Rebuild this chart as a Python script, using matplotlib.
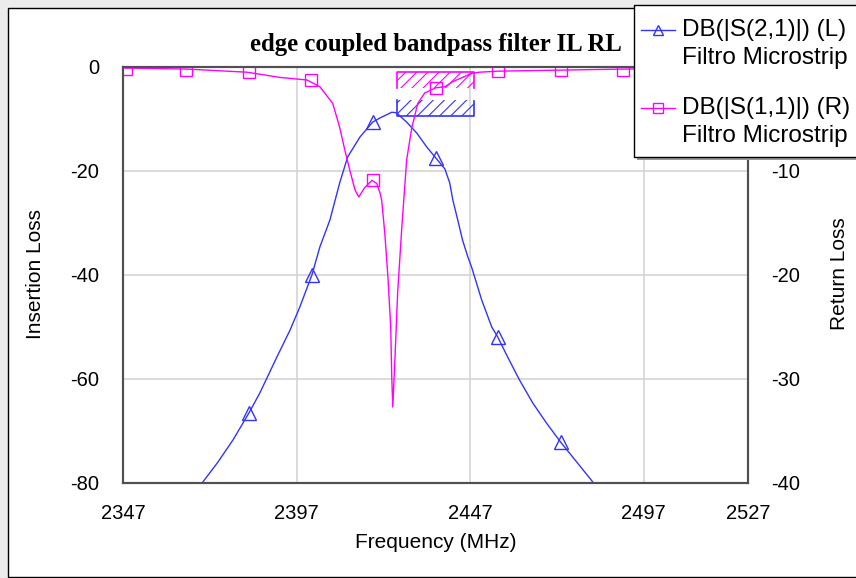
import matplotlib
matplotlib.use("Agg")
import matplotlib.pyplot as plt
import matplotlib.transforms as mtransforms
from matplotlib.lines import Line2D
from matplotlib.patches import Rectangle

# DB(|S(2,1)|) - insertion loss, left axis
s21_freq = [2367.5, 2370.0, 2374.1, 2378.7, 2383.3, 2386.4, 2391.3, 2395.1, 2397.9, 2401.4,
            2403.7, 2406.6, 2409.4, 2411.7, 2415.2, 2418.9, 2421.0, 2424.4, 2425.8, 2426.7,
            2428.7, 2431.6, 2434.5, 2437.1, 2439.7, 2441.1, 2442.0, 2443.4, 2444.8, 2446.3,
            2447.4, 2450.3, 2453.2, 2454.9, 2457.8, 2461.2, 2465.0, 2469.0, 2473.0, 2476.5,
            2482.3, 2484.5]
s21_db = [-83.0, -79.8, -76.2, -71.7, -66.5, -62.7, -55.8, -50.6, -46.2, -40.0,
          -34.6, -29.4, -22.3, -17.3, -13.5, -10.6, -9.8, -8.7, -8.8, -9.4,
          -10.6, -12.7, -15.4, -17.5, -19.6, -22.3, -25.6, -29.4, -33.3, -36.5,
          -38.5, -44.8, -50.0, -51.9, -55.8, -60.2, -64.6, -68.5, -72.1, -75.0,
          -79.8, -83.0]
s21_mark_freq = [2383.3, 2401.4, 2418.9, 2437.1, 2454.9, 2473.0]
s21_mark_db = [-66.5, -40.0, -10.6, -17.5, -51.9, -72.1]

# DB(|S(1,1)|) - return loss, right axis
s11_freq = [2347.0, 2365.4, 2382.7, 2392.2, 2400.0, 2403.7, 2407.4, 2409.4, 2410.9, 2412.3,
            2413.8, 2414.9, 2416.6, 2418.7, 2420.1, 2421.0, 2421.5, 2422.4, 2423.3, 2424.1,
            2424.4, 2424.7, 2425.3, 2426.1, 2427.3, 2428.7, 2430.2, 2431.9, 2433.9, 2437.1,
            2439.7, 2442.0, 2444.8, 2447.4, 2449.7, 2454.9, 2473.0, 2490.9, 2527.0]
s11_db = [-0.1, -0.2, -0.5, -1.0, -1.25, -1.9, -3.5, -5.8, -8.0, -9.9,
          -11.8, -12.5, -11.6, -10.9, -11.2, -12.1, -12.8, -16.0, -20.2, -25.0,
          -29.8, -32.7, -28.2, -21.7, -15.4, -8.9, -5.8, -3.5, -2.5, -2.0,
          -1.9, -1.4, -1.0, -0.6, -0.5, -0.4, -0.3, -0.2, -0.1]
s11_mark_freq = [2347.9, 2365.1, 2383.3, 2401.1, 2418.9, 2437.1, 2454.9, 2473.0, 2490.9]
s11_mark_db = [-0.15, -0.3, -0.5, -1.25, -10.9, -2.0, -0.4, -0.3, -0.25]

# optimisation goals
goal_freq = [2426, 2448]
il_goal = -9.4
rl_goal = -0.5

xticks = [2347, 2397, 2447, 2497, 2527]
il_ticks = [0, -20, -40, -60, -80]
rl_ticks = [0, -10, -20, -30, -40]

legend_labels = ["DB(|S(2,1)|) (L)", "DB(|S(1,1)|) (R)"]
legend_sub = "Filtro Microstrip"

BLUE = "#3333ff"
PINK = "#ff00ff"
SANS = ["Liberation Sans", "DejaVu Sans"]

plt.rcParams["font.family"] = SANS
plt.rcParams["axes.unicode_minus"] = False
plt.rcParams["hatch.linewidth"] = 0.8

W, H = 856, 578
fig = plt.figure(figsize=(W / 100, H / 100), dpi=100)
fig.patch.set_facecolor("#ececec")
# pixel coords, origin top-left
px = mtransforms.Affine2D().scale(1 / W, -1 / H).translate(0, 1) + fig.transFigure

fig.add_artist(Rectangle((8, 8), 900, 569, transform=px, facecolor="white",
                         edgecolor="black", lw=1, zorder=-5))

ax = fig.add_axes([123 / W, 1 - 483 / H, (748 - 123) / W, (483 - 67) / H])
ax.set_xlim(2347, 2527)
ax.set_ylim(-80, 0)
ax.set_xticks(xticks)
ax.set_yticks(il_ticks)
ax.grid(True, color="#d4d4d4", lw=1.2)
ax.set_axisbelow(True)
ax.tick_params(axis="both", length=0, labelsize=14.5)
ax.tick_params(axis="y", pad=17)
ax.tick_params(axis="x", pad=15)

ax.plot(s21_freq, s21_db, color=BLUE, lw=1)
ax.plot(s21_mark_freq, s21_mark_db, ls="none", marker="^", ms=10, mfc="none",
        mec=BLUE, mew=1)

# IL goal (hatched above the line)
ax.fill_between(goal_freq, il_goal, il_goal + 3.1, facecolor="none", edgecolor=BLUE,
                hatch="///", lw=0)
ax.plot([goal_freq[0], goal_freq[0], goal_freq[1], goal_freq[1]],
        [il_goal + 3.1, il_goal, il_goal, il_goal + 2.8], color=BLUE, lw=1.2)

ax2 = ax.twinx()
ax2.set_ylim(-40, 0)
ax2.set_yticks(rl_ticks)
ax2.tick_params(axis="y", length=0, labelsize=14.5, pad=17)

ax2.plot(s11_freq, s11_db, color=PINK, lw=1)
ax2.plot(s11_mark_freq, s11_mark_db, ls="none", marker="s", ms=9, mfc="none",
         mec=PINK, mew=1)

# RL goal (hatched below the line)
ax2.fill_between(goal_freq, rl_goal - 1.55, rl_goal, facecolor="none", edgecolor=PINK,
                 hatch="///", lw=0)
ax2.plot([goal_freq[0], goal_freq[0], goal_freq[1], goal_freq[1]],
         [rl_goal - 1.55, rl_goal, rl_goal, rl_goal - 1.55], color=PINK, lw=1.2)

for a in (ax, ax2):
    for s in a.spines.values():
        s.set_color("#505050")
        s.set_linewidth(1.5)

fig.text(436, 45, "edge coupled bandpass filter IL RL", transform=px, ha="center",
         va="center", family=["Liberation Serif", "DejaVu Serif"], weight="bold", size=17.8)
fig.text(436, 543, "Frequency (MHz)", transform=px, ha="center", va="center", size=15)
fig.text(36, 274, "Insertion Loss", transform=px, ha="center", va="center",
         rotation=90, size=15)
fig.text(840, 274, "Return Loss", transform=px, ha="center", va="center",
         rotation=90, size=15)

# legend box drawn by hand so the handle sits on the first text line
fig.add_artist(Rectangle((637, 8), 240, 152, transform=px, facecolor="#999999",
                         edgecolor="none", zorder=5))
fig.add_artist(Rectangle((634, 5), 240, 152, transform=px, facecolor="white",
                         edgecolor="black", lw=1, zorder=6))
for (label, color, mk, y0) in [(legend_labels[0], BLUE, "^", 30),
                               (legend_labels[1], PINK, "s", 108)]:
    fig.add_artist(Line2D([641, 658, 675], [y0, y0, y0], transform=px, color=color,
                          lw=1, marker=mk, markevery=[1], ms=7, mfc="none", mec=color,
                          zorder=7))
    fig.text(682, y0, label, transform=px, va="center", size=17.5, zorder=7)
    fig.text(682, y0 + 28, legend_sub, transform=px, va="center", size=17.5, zorder=7)

fig.savefig("out.png", dpi=100, facecolor=fig.get_facecolor())
